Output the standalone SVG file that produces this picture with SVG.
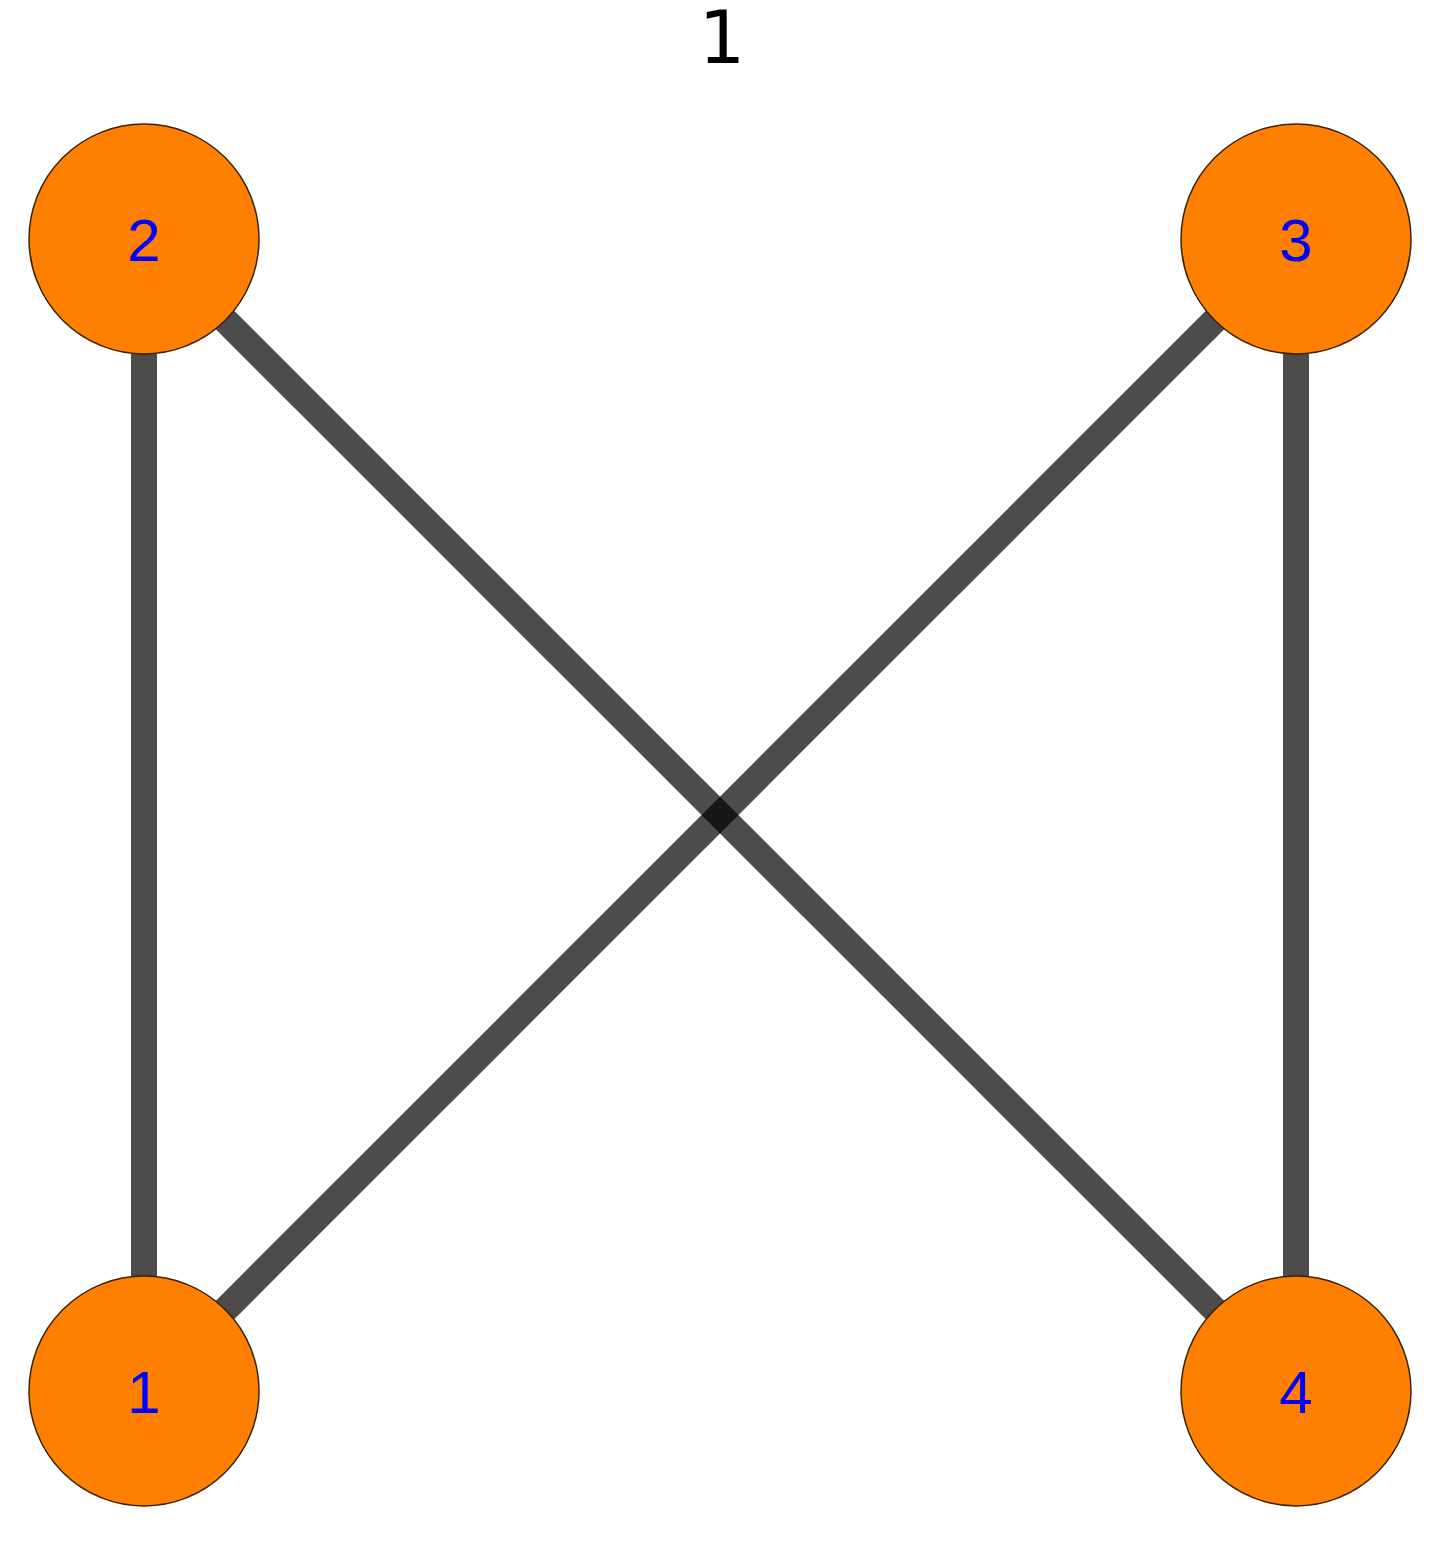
<svg xmlns="http://www.w3.org/2000/svg" width="1445" height="1545" viewBox="0 0 1445 1545">
<style>
.edge{stroke:#000;stroke-opacity:0.7;stroke-width:26;fill:none}
.node circle{fill:#ff7f00;stroke:#3a2200;stroke-width:1.5}
.node text{font-family:"Liberation Sans",Arial,sans-serif;font-size:60px;fill:#0000ff;text-anchor:middle}
.title{font-family:"DejaVu Sans",sans-serif;font-size:73px;fill:#000;text-anchor:middle}
</style>
<rect width="1445" height="1545" fill="#fff"/>
<text class="title" x="722" y="63">1</text>
<g id="edges">
<line class="edge" x1="144" y1="1391" x2="144" y2="239"/>
<line class="edge" x1="144" y1="1391" x2="1296" y2="239"/>
<line class="edge" x1="144" y1="239" x2="1296" y2="1391"/>
<line class="edge" x1="1296" y1="239" x2="1296" y2="1391"/>
</g>
<g id="node1" class="node"><circle cx="144" cy="1391" r="115"/><text x="144" y="1413">1</text></g>
<g id="node2" class="node"><circle cx="144" cy="239" r="115"/><text x="144" y="261">2</text></g>
<g id="node3" class="node"><circle cx="1296" cy="239" r="115"/><text x="1296" y="261">3</text></g>
<g id="node4" class="node"><circle cx="1296" cy="1391" r="115"/><text x="1296" y="1413">4</text></g>
</svg>
